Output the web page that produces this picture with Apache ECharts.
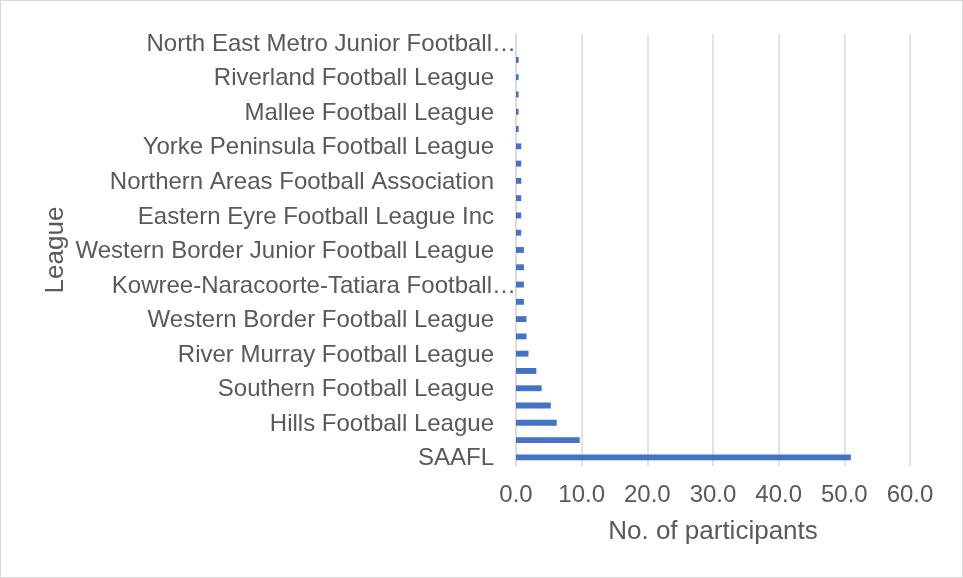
<!DOCTYPE html>
<html>
<head>
<meta charset="utf-8">
<script src="https://cdn.jsdelivr.net/npm/echarts@6/dist/echarts.min.js"></script>
<style>
html,body{margin:0;padding:0;background:#fff;}
#c{width:963px;height:578px;box-sizing:border-box;border:1px solid #d9d9d9;}
</style>
</head>
<body>
<div id="c"></div>
<script>
// Categories listed top to bottom (unlabelled rows were hidden in the original)
var categories = [
  "North East Metro Junior Football…", "(unlabelled 1)",
  "Riverland Football League", "(unlabelled 2)",
  "Mallee Football League", "(unlabelled 3)",
  "Yorke Peninsula Football League", "(unlabelled 4)",
  "Northern Areas Football Association", "(unlabelled 5)",
  "Eastern Eyre Football League Inc", "(unlabelled 6)",
  "Western Border Junior Football League", "(unlabelled 7)",
  "Kowree-Naracoorte-Tatiara Football…", "(unlabelled 8)",
  "Western Border Football League", "(unlabelled 9)",
  "River Murray Football League", "(unlabelled 10)",
  "Southern Football League", "(unlabelled 11)",
  "Hills Football League", "(unlabelled 12)",
  "SAAFL"
];
var participants = [
  0, 0.4, 0.4, 0.4, 0.4, 0.4,
  0.8, 0.8, 0.8, 0.8, 0.8, 0.8,
  1.2, 1.2, 1.2, 1.2,
  1.6, 1.6, 1.9, 3.1, 3.9, 5.3, 6.2, 9.7, 51.0
];
var xTicks = [0, 10, 20, 30, 40, 50, 60];

var chart = echarts.init(document.getElementById('c'), null, {renderer: 'canvas'});
var font = 'Liberation Sans, Arial, sans-serif';
chart.setOption({
  backgroundColor: '#ffffff',
  animation: false,
  grid: {left: 515, right: 52, top: 33, bottom: 111, containLabel: false},
  xAxis: {
    type: 'value',
    min: xTicks[0],
    max: xTicks[xTicks.length - 1],
    interval: xTicks[1] - xTicks[0],
    name: 'No. of participants',
    nameLocation: 'middle',
    nameGap: 53,
    nameTextStyle: {color: '#595959', fontSize: 26, fontFamily: font},
    axisLine: {show: false},
    axisTick: {show: false},
    axisLabel: {
      color: '#595959', fontSize: 24, fontFamily: font, margin: 17,
      formatter: function (v) { return v.toFixed(1); }
    },
    splitLine: {show: true, lineStyle: {color: '#d9d9d9', width: 1.5}}
  },
  yAxis: {
    type: 'category',
    inverse: true,
    data: categories,
    name: 'League',
    nameLocation: 'middle',
    nameGap: 447,
    nameRotate: 90,
    nameTextStyle: {color: '#595959', fontSize: 26, fontFamily: font},
    axisLine: {show: true, lineStyle: {color: '#d9d9d9', width: 1.5}},
    axisTick: {show: false},
    axisLabel: {
      interval: 1,
      margin: 0,
      formatter: function (v) {
        return (v.charAt(v.length - 1) === '…') ? '{e|' + v + '}' : '{n|' + v + '}';
      },
      rich: {
        n: {color: '#595959', fontSize: 24, fontFamily: font, padding: [3, 22, 0, 0]},
        e: {color: '#595959', fontSize: 24, fontFamily: font, padding: [3, 0, 0, 0]}
      }
    },
    splitLine: {show: false}
  },
  series: [{
    type: 'bar',
    data: participants,
    barCategoryGap: '66%',
    itemStyle: {color: '#4472C4'}
  }]
});
</script>
</body>
</html>
